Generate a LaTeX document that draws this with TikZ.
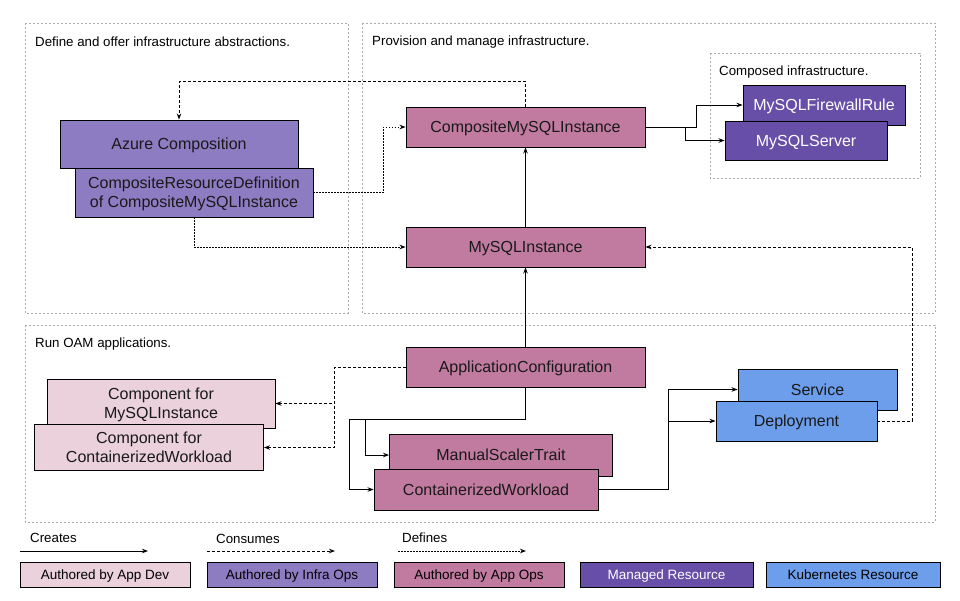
\documentclass[tikz,border=0pt]{standalone}
\usepackage{fontspec}
\setmainfont{Liberation Sans}
\usetikzlibrary{arrows.meta}
\definecolor{appdev}{HTML}{EAD1DC}
\definecolor{infraops}{HTML}{8E7CC3}
\definecolor{appops}{HTML}{C27BA0}
\definecolor{managed}{HTML}{674EA7}
\definecolor{kube}{HTML}{6D9EEB}
\definecolor{regiongray}{HTML}{AAAAAA}
\tikzset{
  box/.style={draw=black, line width=0.9pt, inner sep=0pt, align=center, text=black!90,
    text depth=0pt, font=\fontsize{16}{19}\selectfont},
  devbox/.style={box, fill=appdev},
  infrabox/.style={box, fill=infraops},
  opsbox/.style={box, fill=appops},
  mgdbox/.style={box, fill=managed, text=white},
  kubebox/.style={box, fill=kube},
  legbox/.style={draw=black, line width=0.8pt, inner sep=0pt, align=center, text depth=0pt,
    minimum height=25pt, font=\fontsize{13.5}{16}\selectfont},
  region/.style={draw=regiongray, line width=0.7pt, dash pattern=on 2pt off 2pt},
  regionlabel/.style={anchor=west, inner sep=0pt, font=\fontsize{13.3}{16}\selectfont},
  leglabel/.style={anchor=west, inner sep=0pt, font=\fontsize{13.3}{16}\selectfont},
  tip/.style={-{Stealth[length=6pt,width=4.5pt]}},
  creates/.style={tip, line width=0.9pt},
  consumes/.style={tip, line width=0.9pt, dash pattern=on 3pt off 2pt},
  defines/.style={tip, line width=0.9pt, dash pattern=on 1.5pt off 1.5pt},
}
\begin{document}
\begin{tikzpicture}[x=1pt,y=-1pt]
\useasboundingbox[fill=white] (0,0) rectangle (960,600);

% regions
\draw[region] (25,23) rectangle (348,313);
\node[regionlabel] (r1) at (35,42) {Define and offer infrastructure abstractions.};
\draw[region] (362,23) rectangle (935,313);
\node[regionlabel] (r2) at (372,42) {Provision and manage infrastructure.};
\draw[region] (710,53) rectangle (920,178);
\node[regionlabel] (r3) at (719,72) {Composed infrastructure.};
\draw[region] (25,325) rectangle (935,522);
\node[regionlabel] (r4) at (35,344) {Run OAM applications.};

% nodes
\node[infrabox, minimum width=238pt, minimum height=48pt] (az) at (179,144) {Azure Composition};
\node[infrabox, minimum width=238pt, minimum height=49pt] (crd) at (194,192.5) {CompositeResourceDefinition\\of CompositeMySQLInstance};
\node[opsbox, minimum width=239pt, minimum height=40pt] (cmi) at (525.5,127) {CompositeMySQLInstance};
\node[opsbox, minimum width=239pt, minimum height=40pt] (mi) at (525.5,247) {MySQLInstance};
\node[mgdbox, minimum width=162pt, minimum height=40pt] (fw) at (824,105) {MySQLFirewallRule};
\node[mgdbox, minimum width=162pt, minimum height=39pt] (srv) at (806,140.5) {MySQLServer};
\node[opsbox, minimum width=239pt, minimum height=40pt] (ac) at (525.5,367) {ApplicationConfiguration};
\node[devbox, minimum width=228pt, minimum height=49pt] (cm) at (161,403.5) {Component for\\MySQLInstance};
\node[devbox, minimum width=229pt, minimum height=46pt] (ccw) at (149,447.5) {Component for\\ContainerizedWorkload};
\node[opsbox, minimum width=223pt, minimum height=42pt] (mst) at (501,455) {ManualScalerTrait};
\node[opsbox, minimum width=224pt, minimum height=41pt] (cw) at (486,489.5) {ContainerizedWorkload};
\node[kubebox, minimum width=159pt, minimum height=41pt] (svc) at (817.5,389.5) {Service};
\node[kubebox, minimum width=161pt, minimum height=40pt] (dep) at (796.5,421) {Deployment};

% connectors
\draw[consumes] (cmi.north) -- ++(0,-25) -| (az.north);
\draw[defines] (crd.east) -- ++(70,0) |- (cmi.west);
\draw[defines] (crd.south) |- (mi.west);
\draw[creates] (mi.north) -- (cmi.south);
\draw[creates] (cmi.east) -- ++(51,0) |- (fw.west);
\draw[creates] (cmi.east) -- ++(40,0) |- (srv.west);
\draw[creates] (ac.north) -- (mi.south);
\draw[creates] (ac.south) |- (365,419) |- (mst.west);
\draw[creates] (ac.south) |- (349,419) |- (cw.west);
\coordinate (j2) at (668,421);
\draw[creates] (cw.east) -- (668,489.5) |- (svc.west);
\draw[creates] (j2) -- (dep.west);
\draw[consumes] (dep.east) -- ++(35,0) |- (mi.east);
\draw[consumes] (ac.west) -- ++(-71,0) |- (cm.east);
\draw[consumes] (ac.west) -- ++(-71,0) |- (ccw.east);

% legend
\node[leglabel] (lc) at (30,538) {Creates};
\coordinate (lc1) at (20,551);
\coordinate (lc2) at (148,551);
\draw[creates] (lc1) -- (lc2);
\node[leglabel] (lu) at (216,539) {Consumes};
\coordinate (lu1) at (207,551);
\coordinate (lu2) at (335,551);
\draw[consumes] (lu1) -- (lu2);
\node[leglabel] (lf) at (402,538) {Defines};
\coordinate (lf1) at (398,551);
\coordinate (lf2) at (526,551);
\draw[defines] (lf1) -- (lf2);

\node[legbox, fill=appdev, minimum width=170pt] (ld) at (105,575) {Authored by App Dev};
\node[legbox, fill=infraops, minimum width=170pt] (li) at (292,575) {Authored by Infra Ops};
\node[legbox, fill=appops, minimum width=170pt] (lo) at (479,575) {Authored by App Ops};
\node[legbox, fill=managed, text=white, minimum width=173pt] (lm) at (666.5,575) {Managed Resource};
\node[legbox, fill=kube, minimum width=174pt] (lk) at (853,575) {Kubernetes Resource};
\end{tikzpicture}
\end{document}
